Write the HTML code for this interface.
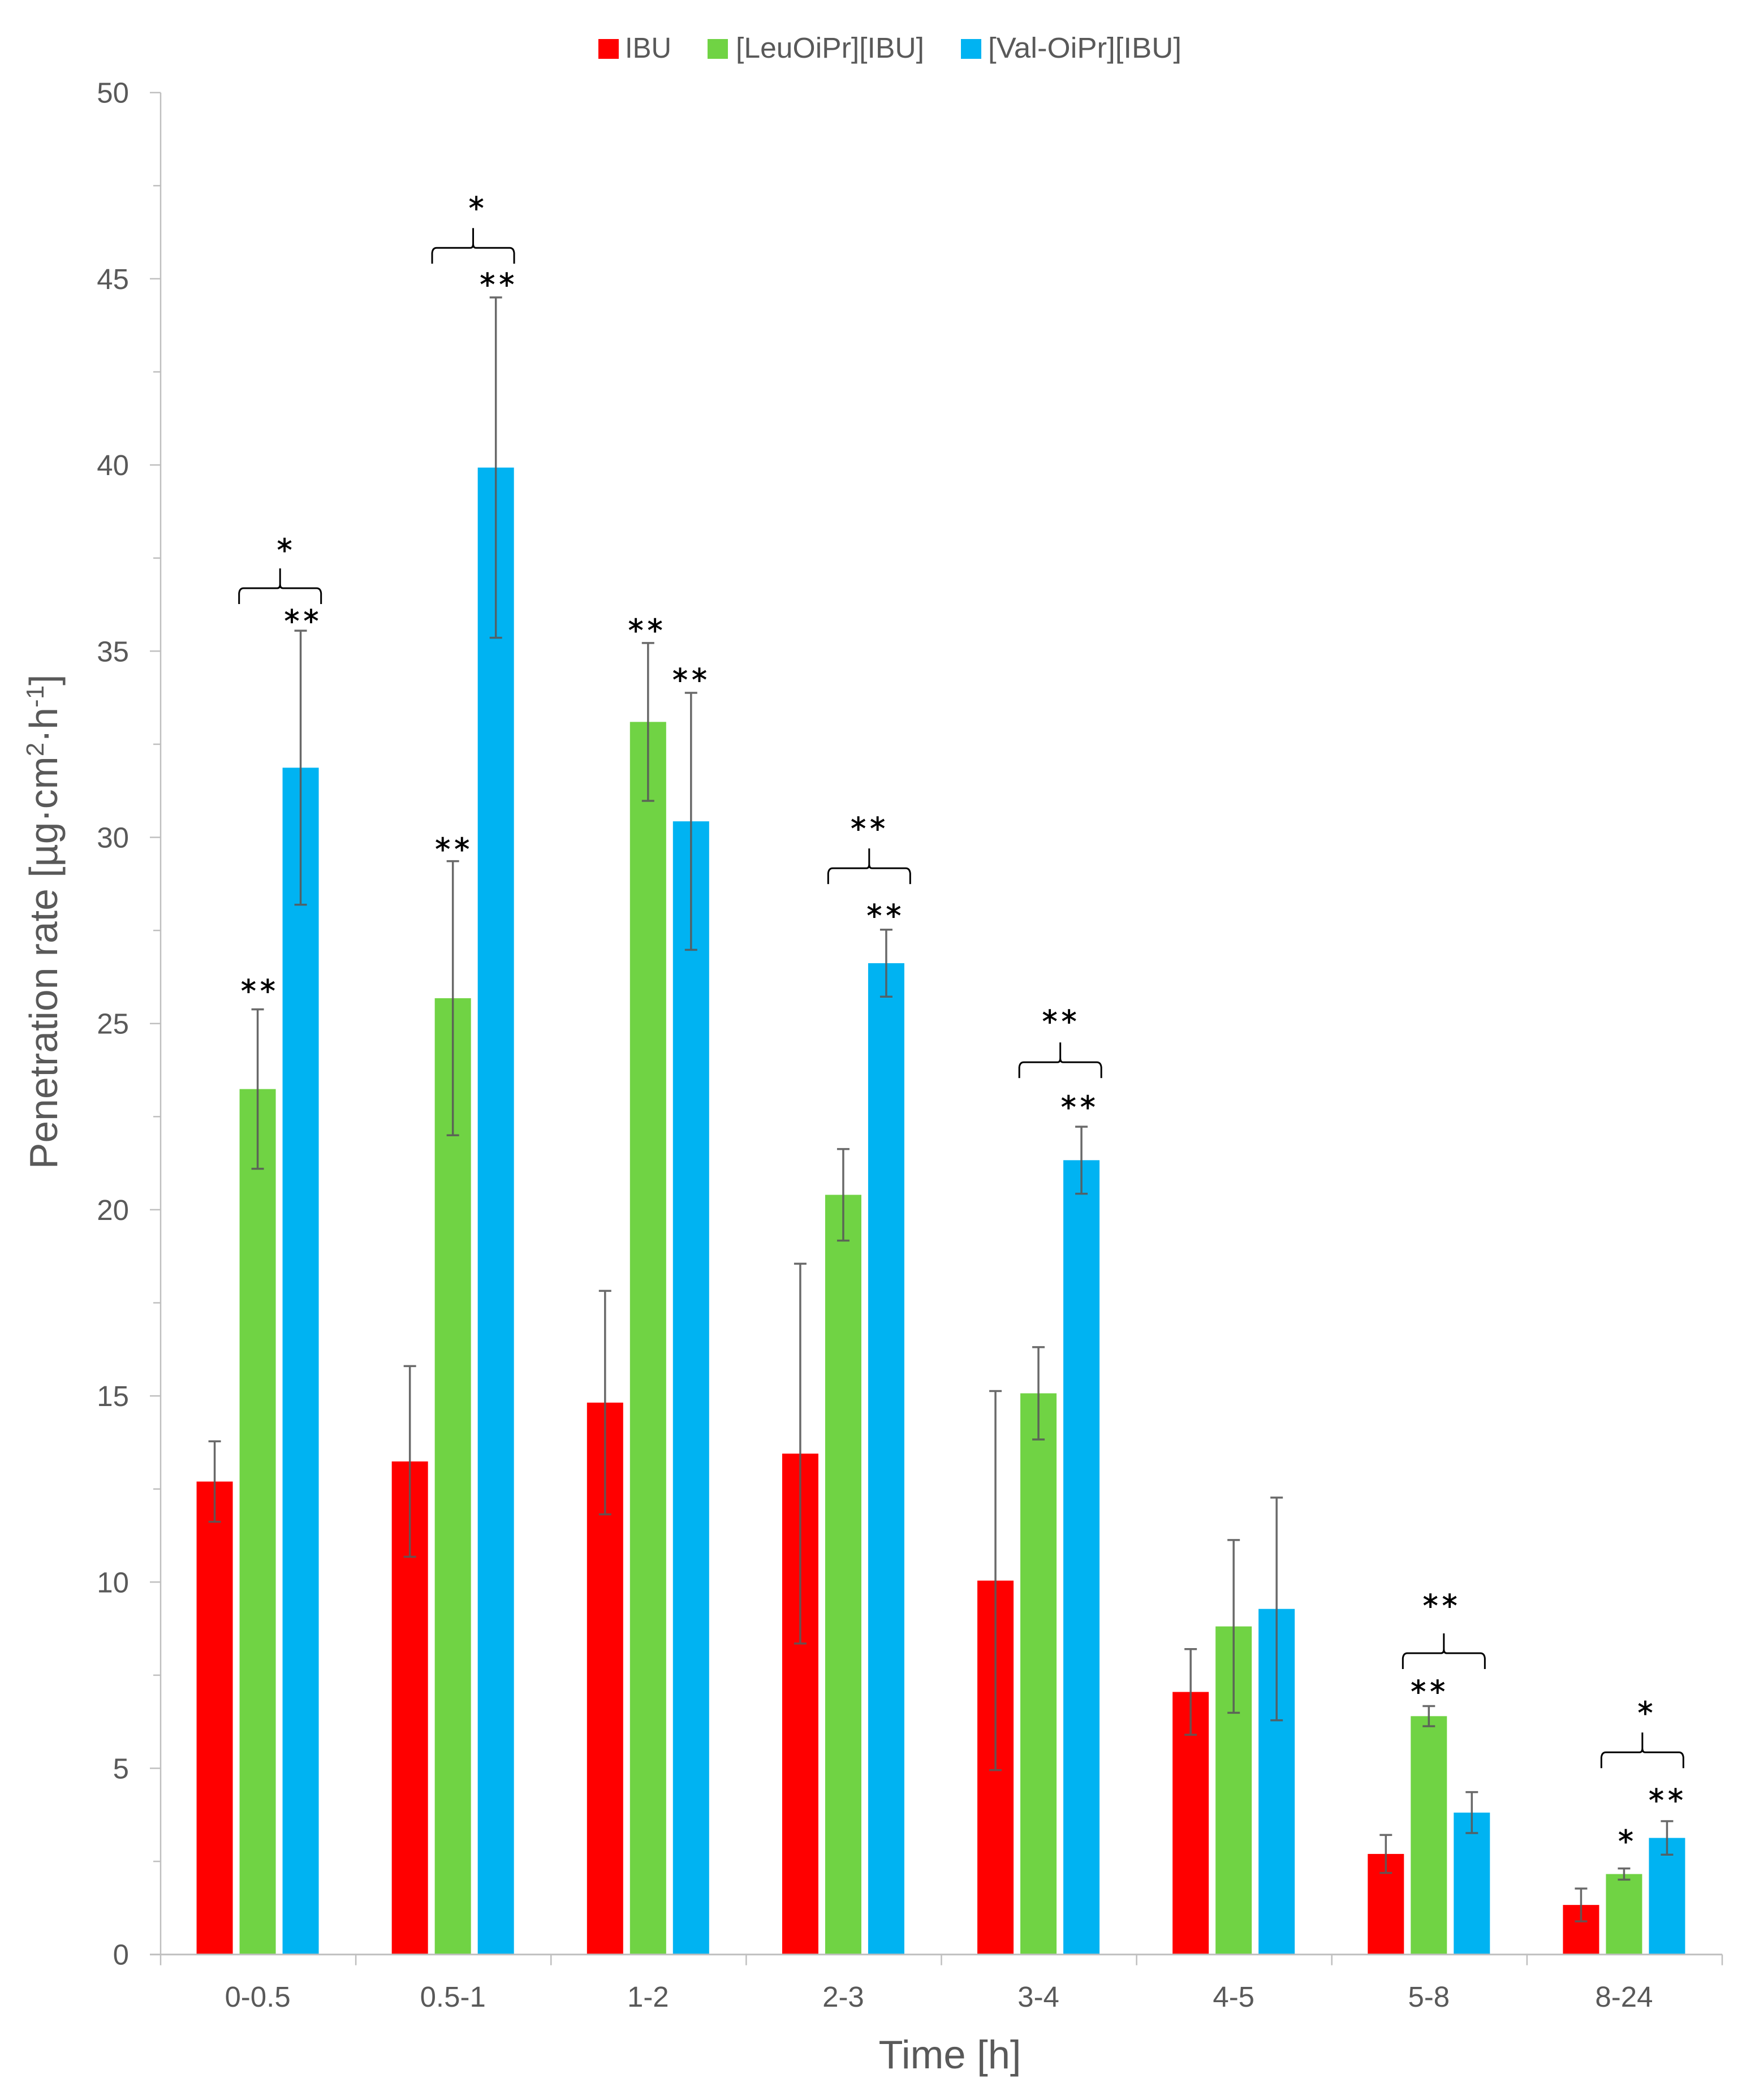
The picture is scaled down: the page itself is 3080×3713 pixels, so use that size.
<!DOCTYPE html>
<html lang="en">
<head>
<meta charset="utf-8">
<title>Penetration rate chart</title>
<style>
html,body{margin:0;padding:0;background:#fff}
svg{display:block}
text{font-family:"Liberation Sans",sans-serif;fill:#595959}
.sig{font-family:"DejaVu Sans",sans-serif;fill:#000;stroke:#000;stroke-width:0.9px;font-size:54px}
</style>
</head>
<body>
<svg id="chart" xmlns="http://www.w3.org/2000/svg" width="3080" height="3713" viewBox="0 0 3080 3713">
  <rect x="0" y="0" width="3080" height="3713" fill="#ffffff"/>
  <g id="bars"></g>
  <g id="errors"></g>
  <g id="axes"></g>
  <g id="annotations"></g>
  <g id="legend"></g>
  <text x="1679.5" y="3657" font-size="70.5" text-anchor="middle">Time [h]</text>
  <text transform="translate(101,2067) rotate(-90)" font-size="69.7">Penetration rate [µg·cm<tspan font-size="44" dy="-24">2</tspan><tspan dy="24">·h</tspan><tspan font-size="44" dy="-24">-1</tspan><tspan dy="24">]</tspan></text>
</svg>
<script>
const categories = ['0-0.5','0.5-1','1-2','2-3','3-4','4-5','5-8','8-24'];
const seriesNames = ['IBU','[LeuOiPr][IBU]','[Val-OiPr][IBU]'];
const ibuValues = [12.70,13.24,14.82,13.45,10.04,7.05,2.70,1.33];
const leuValues = [23.24,25.68,33.10,20.40,15.07,8.81,6.40,2.16];
const valValues = [31.87,39.93,30.43,26.62,21.33,9.28,3.81,3.13];
const ibuErrors = [1.08,2.56,3.00,5.10,5.09,1.15,0.51,0.44];
const leuErrors = [2.14,3.68,2.12,1.23,1.24,2.32,0.27,0.15];
const valErrors = [3.68,4.57,3.45,0.90,0.90,2.99,0.55,0.45];
const yTickLabels = [0,5,10,15,20,25,30,35,40,45,50];
const yMinorTicks = [2.5,7.5,12.5,17.5,22.5,27.5,32.5,37.5,42.5,47.5];

/* significance marks, in axis units: [category position, value level, label] */
const sigMarks = [
  [0.501,26.00,'**'],[0.723,35.93,'**'],[0.635,37.84,'*'],
  [1.496,29.80,'**'],[1.725,44.97,'**'],[1.617,47.02,'*'],
  [2.485,35.68,'**'],[2.712,34.35,'**'],
  [3.625,30.36,'**'],[3.707,28.02,'**'],
  [4.606,25.18,'**'],[4.702,22.88,'**'],
  [6.556,9.49,'**'],[6.494,7.18,'**'],
  [7.606,6.61,'*'],[7.506,3.16,'*'],[7.713,4.26,'**']
];
/* brackets, in axis units: [category position of centre, value level] */
const brackets = [[0.612,36.69],[1.601,45.83],[3.630,29.17],[4.609,23.96],[6.574,8.09],[7.591,5.43]];

const NS = 'http://www.w3.org/2000/svg';
const AXIS = '#bfbfbf', ERR = '#595959';
const plotLeft = 284, plotRight = 3045, plotTop = 163.7, plotBottom = 3455.7, yMax = 50;
const catW = (plotRight - plotLeft) / categories.length;
const xScale = c => plotLeft + c * catW;
const yScale = v => plotBottom - (v / yMax) * (plotBottom - plotTop);
const barW = 64, barStep = 76;
const seriesValues = [ibuValues, leuValues, valValues];
const seriesErrors = [ibuErrors, leuErrors, valErrors];
const seriesColors = ['#ff0000','#70d344','#00b3f2'];
const seriesKeys = ['ibu','leu','val'];

function mk(tag, parent, attrs){
  const el = document.createElementNS(NS, tag);
  for (const k in attrs) el.setAttribute(k, attrs[k]);
  parent.appendChild(el);
  return el;
}
const gBars = document.getElementById('bars');
const gErr = document.getElementById('errors');
const gAxes = document.getElementById('axes');
const gAnn = document.getElementById('annotations');
const gLeg = document.getElementById('legend');

/* bars + error bars */
seriesValues.forEach((vals, s) => {
  vals.forEach((v, i) => {
    const cx = xScale(i + 0.5) + (s - 1) * barStep - 1;
    const top = yScale(v);
    const r = mk('rect', gBars, {x: cx - barW/2, y: top, width: barW, height: plotBottom - top, fill: seriesColors[s]});
    
    
    const e = seriesErrors[s][i];
    const yU = yScale(v + e), yL = yScale(v - e);
    const p = mk('path', gErr, {
      d: `M${cx-11} ${yU}H${cx+11}M${cx} ${yU}V${yL}M${cx-11} ${yL}H${cx+11}`,
      stroke: ERR, 'stroke-width': 3.5, fill: 'none', 'stroke-opacity': 0.9
    });
    
    
  });
});

/* y axis */
const yLine = mk('line', gAxes, {x1: plotLeft, x2: plotLeft, y1: plotTop, y2: plotBottom + 19, stroke: AXIS, 'stroke-width': 2.5});


yTickLabels.forEach(v => {
  const y = yScale(v);
  const t = mk('line', gAxes, {x1: plotLeft - 19, x2: plotLeft, y1: y, y2: y, stroke: AXIS, 'stroke-width': 2.5});
  
  
  const l = mk('text', gAxes, {x: 228, y: y + 18, 'text-anchor': 'end', 'font-size': 51});
  l.textContent = String(v);
  
  
});
yMinorTicks.forEach(v => {
  const y = yScale(v);
  const t = mk('line', gAxes, {x1: plotLeft - 13, x2: plotLeft, y1: y, y2: y, stroke: AXIS, 'stroke-width': 2.5});
  
  
});

/* x axis */
const xLine = mk('line', gAxes, {x1: plotLeft - 19, x2: plotRight, y1: plotBottom, y2: plotBottom, stroke: AXIS, 'stroke-width': 3});


for (let i = 1; i <= categories.length; i++) {
  const x = xScale(i);
  const t = mk('line', gAxes, {x1: x, x2: x, y1: plotBottom, y2: plotBottom + 19, stroke: AXIS, 'stroke-width': 2.5});
  
  
}
categories.forEach((c, i) => {
  const l = mk('text', gAxes, {x: xScale(i + 0.5) - 1, y: 3548, 'text-anchor': 'middle', 'font-size': 51});
  l.textContent = c;
  
  
});

/* brackets */
brackets.forEach(b => {
  const cx = xScale(b[0]), y = yScale(b[1]);
  const L = cx - 72.5, R = cx + 72.5, bot = y + 28, top = y - 35;
  const p = mk('path', gAnn, {
    d: `M${L} ${bot}V${y+9}Q${L+1} ${y} ${L+8} ${y}H${cx-5}Q${cx} ${y} ${cx} ${y-7}V${top}M${cx} ${y-7}Q${cx} ${y} ${cx+5} ${y}H${R-8}Q${R-1} ${y} ${R} ${y+9}V${bot}`,
    stroke: '#000', 'stroke-width': 3, fill: 'none'
  });
  
  
});

/* stars: vertical anchor is the glyph centre */
sigMarks.forEach(m => {
  const dbl = m[2].length > 1;
  const t = mk('text', gAnn, {x: xScale(m[0]) + (dbl ? 3 : 0), y: yScale(m[1]) + 27, 'text-anchor': 'middle', 'class': 'sig', 'letter-spacing': dbl ? 7 : 0});
  t.textContent = m[2];
  
  
});

/* legend */
const legendSwatchX = [1058, 1251, 1699];
const legendTextX = [1105, 1301, 1747];
const legendTextLen = [82, 333, 342];
seriesNames.forEach((n, s) => {
  const r = mk('rect', gLeg, {x: legendSwatchX[s], y: 69, width: 36, height: 35, fill: seriesColors[s]});
  
  
  const t = mk('text', gLeg, {x: legendTextX[s], y: 102, 'font-size': 51, textLength: legendTextLen[s], lengthAdjust: 'spacingAndGlyphs'});
  t.textContent = n;
  
  
});
</script>
</body>
</html>
